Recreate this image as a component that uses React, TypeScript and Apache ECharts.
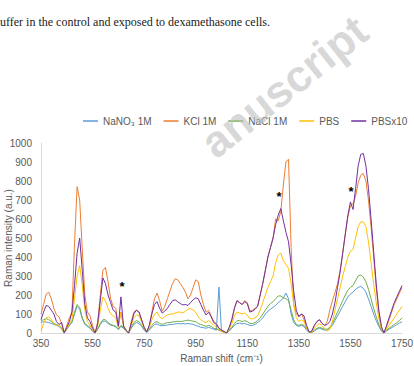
import React, { useEffect, useRef } from "react";
import * as echarts from "echarts";

// Raman shift sampling grid (cm^-1), 350 to 1750 in 10 cm^-1 steps
const shifts: number[] = Array.from({ length: 141 }, (_, i) => 350 + i * 10);

const nano3: number[] = [
  55, 60, 58, 55, 50, 45, 40, 35, 20, 0,
  20, 40, 55, 100, 140, 125, 75, 45, 35, 25,
  8, 0, 20, 45, 62, 62, 50, 42, 38, 32,
  18, 35, 25, 8, 0, 25, 45, 55, 50, 35,
  15, 3, 15, 30, 45, 48, 40, 38, 40, 42,
  45, 45, 48, 50, 48, 50, 48, 50, 48, 45,
  40, 35, 30, 28, 25, 30, 25, 20, 15, 242,
  10, 3, 0, 10, 25, 40, 50, 52, 48, 50,
  45, 40, 40, 45, 55, 65, 80, 100, 115, 125,
  135, 145, 160, 170, 185, 210, 180, 100, 55, 40,
  35, 40, 35, 15, 3, 3, 10, 20, 25, 20,
  15, 15, 25, 40, 65, 90, 115, 140, 165, 190,
  205, 215, 230, 240, 245, 235, 215, 180, 140, 100,
  65, 35, 10, 0, 10, 20, 28, 36, 44, 52,
  60,
];

const kcl: number[] = [
  100, 150, 205, 215, 180, 130, 95, 85, 50, 0,
  40, 80, 110, 470, 770, 700, 440, 200, 110, 90,
  40, 0, 60, 200, 330, 345, 270, 180, 140, 130,
  40, 110, 40, 15, 0, 60, 110, 120, 110, 70,
  30, 5, 40, 110, 180, 210, 170, 115, 140, 180,
  220, 260, 285, 280, 260, 240, 215, 180, 200, 240,
  280, 270, 200, 150, 110, 120, 90, 60, 50, 25,
  15, 8, 0, 30, 70, 130, 170, 160, 150, 170,
  160, 115, 120, 130, 140, 200, 260, 330, 400, 450,
  500, 600, 590, 640, 780, 900, 915, 450, 150, 100,
  90, 100, 70, 30, 5, 10, 40, 60, 70, 50,
  40, 60, 120, 170, 210, 260, 330, 420, 520, 610,
  670, 680, 720, 790, 830, 840, 800, 700, 560, 400,
  240, 110, 30, 0, 30, 70, 110, 150, 180, 210,
  240,
];

const nacl: number[] = [
  65, 70, 75, 70, 60, 50, 45, 40, 25, 0,
  20, 40, 60, 110, 150, 135, 80, 50, 40, 30,
  10, 0, 20, 50, 70, 70, 55, 45, 40, 35,
  20, 40, 30, 10, 0, 30, 55, 65, 60, 40,
  20, 5, 20, 40, 55, 60, 50, 45, 50, 55,
  55, 58, 60, 62, 60, 62, 65, 68, 65, 62,
  60, 50, 45, 40, 35, 40, 35, 25, 20, 15,
  8, 3, 0, 15, 30, 50, 65, 65, 60, 65,
  60, 50, 50, 55, 65, 80, 100, 120, 140, 155,
  165, 180, 195, 195, 185, 180, 170, 120, 70, 45,
  40, 45, 40, 20, 3, 3, 15, 25, 30, 25,
  20, 20, 30, 50, 80, 110, 140, 170, 200, 225,
  240, 250, 275, 300, 305, 295, 270, 230, 180, 130,
  85, 45, 15, 0, 15, 25, 35, 45, 55, 65,
  80,
];

const pbs: number[] = [
  10, 50, 80, 85, 70, 50, 40, 40, 30, 0,
  20, 50, 70, 180, 300, 355, 250, 120, 60, 40,
  15, 0, 40, 120, 190, 170, 130, 100, 90, 80,
  30, 110, 40, 10, 0, 40, 80, 95, 90, 60,
  25, 5, 30, 70, 100, 110, 85, 75, 85, 95,
  100, 100, 105, 110, 110, 105, 115, 125, 130, 120,
  110, 85, 70, 60, 55, 65, 55, 40, 30, 20,
  10, 5, 0, 20, 50, 90, 110, 105, 100, 105,
  95, 75, 75, 80, 90, 120, 160, 200, 240, 270,
  300, 370, 410, 420, 380, 360, 340, 260, 150, 80,
  60, 70, 60, 25, 5, 5, 25, 40, 50, 35,
  25, 10, 20, 60, 120, 180, 240, 300, 350, 400,
  430, 440, 500, 560, 585, 585, 560, 480, 370, 260,
  160, 80, 25, 0, 20, 40, 60, 80, 100, 120,
  140,
];

const pbsx10: number[] = [
  70, 110, 145, 140, 120, 100, 60, 45, 55, 0,
  30, 60, 110, 250, 420, 500, 330, 150, 80, 60,
  25, 0, 50, 170, 290, 260, 200, 160, 120, 110,
  35, 190, 35, 15, 0, 50, 100, 120, 110, 70,
  30, 5, 40, 100, 150, 165, 130, 105, 115, 130,
  150, 170, 175, 165, 155, 148, 150, 145, 160, 175,
  185, 180, 150, 120, 95, 110, 85, 55, 45, 25,
  15, 8, 0, 30, 70, 130, 170, 160, 150, 165,
  155, 110, 115, 125, 140, 200, 260, 330, 400, 450,
  500, 570, 620, 655, 590, 530, 480, 360, 220, 120,
  85, 100, 90, 40, 5, 10, 40, 60, 70, 50,
  40, 45, 60, 100, 160, 240, 320, 420, 520, 620,
  690, 650, 760, 880, 940, 945, 880, 760, 600, 430,
  260, 120, 35, 0, 40, 80, 120, 160, 190, 220,
  250,
];

const seriesNames: string[] = ["NaNO\u2083 1M", "KCl 1M", "NaCl 1M", "PBS", "PBSx10"];
const seriesColors: string[] = ["#5B9BD5", "#ED7D31", "#70AD47", "#FFC000", "#7030A0"];
const xTicks: number[] = [350, 550, 750, 950, 1150, 1350, 1550, 1750];
// Band markers (shift, intensity) for the starred peaks
const starMarks: number[][] = [
  [664, 247],
  [1273, 721],
  [1552, 747],
];

const FONT = "'Liberation Sans', Arial, sans-serif";
const AXIS_GREY = "#595959";

export default function App() {
  const ref = useRef<HTMLDivElement>(null);

  useEffect(() => {
    document.body.style.margin = "0";
    const chart = echarts.init(ref.current!, null, { renderer: "svg" });
    const pair = (vals: number[]) => shifts.map((x, i) => [x, vals[i]]);
    const values = [nano3, kcl, nacl, pbs, pbsx10];
    const plain = (v: number) => String(v);

    chart.setOption({
      animation: false,
      backgroundColor: "#ffffff",
      textStyle: { fontFamily: FONT },
      grid: {
        left: 41,
        right: 12,
        top: 143,
        bottom: 33,
        containLabel: false,
        outerBoundsMode: "none",
      },
      legend: {
        data: seriesNames,
        top: 111,
        left: 78,
        icon: "rect",
        itemWidth: 15,
        itemHeight: 1.5,
        itemGap: 12,
        textStyle: { color: AXIS_GREY, fontSize: 10, fontFamily: FONT },
      },
      xAxis: {
        type: "value",
        min: 350,
        max: 1750,
        axisLine: { show: true, lineStyle: { color: "#d9d9d9", width: 1 } },
        axisTick: { show: false },
        splitLine: { show: false },
        axisLabel: {
          customValues: xTicks,
          formatter: plain,
          color: AXIS_GREY,
          fontSize: 10,
          margin: 5,
          fontFamily: FONT,
        },
        name: "Raman shift (cm\u207B\u00B9)",
        nameLocation: "middle",
        nameGap: 20,
        nameMoveOverlap: false,
        nameTextStyle: { color: AXIS_GREY, fontSize: 10, fontFamily: FONT },
      },
      yAxis: {
        type: "value",
        min: 0,
        max: 1000,
        interval: 100,
        axisLine: { show: true, lineStyle: { color: "#d9d9d9", width: 1 } },
        axisTick: { show: false },
        splitLine: { show: false },
        axisLabel: { formatter: plain, color: AXIS_GREY, fontSize: 10, margin: 9, fontFamily: FONT },
        name: "Raman intensity (a.u.)",
        nameLocation: "middle",
        nameGap: 28,
        nameRotate: 90,
        nameMoveOverlap: false,
        nameTextStyle: { color: AXIS_GREY, fontSize: 10, fontFamily: FONT },
      },
      series: seriesNames.map((name, k) => ({
        name,
        type: "line",
        data: pair(values[k]),
        showSymbol: false,
        symbol: "none",
        color: seriesColors[k],
        lineStyle: { width: 1, color: seriesColors[k] },
        markPoint:
          k === 4
            ? {
                symbol: "circle",
                symbolSize: 0,
                label: {
                  show: true,
                  position: "inside",
                  formatter: "*",
                  color: "#000",
                  fontSize: 13,
                  fontWeight: "bold",
                  fontFamily: FONT,
                },
                data: starMarks.map((c) => ({ coord: c })),
              }
            : undefined,
      })),
      graphic: [
        {
          type: "text",
          left: 0,
          top: 16,
          style: {
            text: "uffer in the control and exposed to dexamethasone cells.",
            font: "12px 'Liberation Serif', 'Times New Roman', serif",
            fill: "#1a1a1a",
          },
        },
        {
          type: "text",
          x: 220,
          y: 165,
          rotation: 0.67,
          z: 100,
          silent: true,
          style: {
            text: "anuscript",
            font: "bold 44px 'Liberation Sans', Arial, sans-serif",
            fill: "rgba(190,190,190,0.6)",
            textAlign: "left",
            textVerticalAlign: "bottom",
          },
        },
      ],
    });

    return () => chart.dispose();
  }, []);

  return (
    <div
      ref={ref}
      style={{ position: "fixed", left: 0, top: 0, width: 414, height: 366, background: "#fff" }}
    />
  );
}
